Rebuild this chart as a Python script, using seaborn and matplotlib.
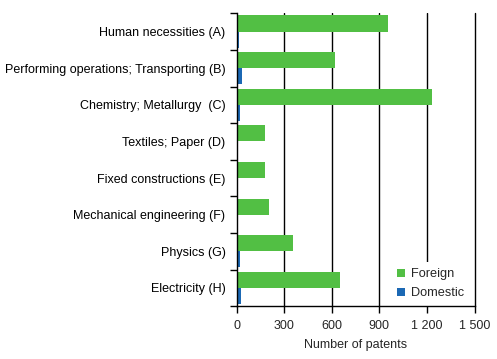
import pandas as pd
import matplotlib
matplotlib.use('Agg')
import matplotlib.pyplot as plt
import seaborn as sns
from matplotlib.ticker import FuncFormatter, FixedLocator

# Patent classes and counts
categories = [
    'Human necessities (A)',
    'Performing operations; Transporting (B)',
    'Chemistry; Metallurgy  (C)',
    'Textiles; Paper (D)',
    'Fixed constructions (E)',
    'Mechanical engineering (F)',
    'Physics (G)',
    'Electricity (H)',
]
foreign = [955, 622, 1233, 181, 181, 206, 357, 653]
domestic = [17, 36, 23, 0, 0, 0, 23, 30]
series_names = ['Foreign', 'Domestic']
x_ticks = [0, 300, 600, 900, 1200, 1500]

GREEN = '#52BF44'
BLUE = '#1B68B4'

sns.set_style('white')
plt.rcParams['font.family'] = ['Liberation Sans', 'DejaVu Sans']
plt.rcParams['font.size'] = 9

df = pd.DataFrame({
    'category': categories * 2,
    'value': foreign + domestic,
    'series': [series_names[0]] * len(categories) + [series_names[1]] * len(categories),
})

fig = plt.figure(figsize=(4.97, 3.59), dpi=100)
ax = fig.add_axes([236.5 / 497, 0.147, 238 / 497, 0.816])

sns.barplot(data=df, x='value', y='category', hue='series', hue_order=series_names,
            palette=[GREEN, BLUE], saturation=1, orient='h', width=0.88,
            linewidth=0, ax=ax, legend=True)

ax.set_xlim(0, 1500)
ax.set_ylim(len(categories) - 0.5, -0.5)
ax.xaxis.set_major_locator(FixedLocator(x_ticks))
ax.xaxis.set_major_formatter(FuncFormatter(lambda v, p: f"{int(v):,}".replace(',', ' ')))
for v in x_ticks[1:-1]:
    ax.axvline(v, color='black', lw=1, zorder=0.5)
# outer gridline stays on top of the legend box
ax.axvline(x_ticks[-1], color='black', lw=1, zorder=0.9, clip_on=False)

# category boundary ticks on y axis, labels without ticks
ax.set_yticks([i - 0.5 for i in range(len(categories) + 1)], minor=True)
ax.tick_params(axis='y', which='major', length=0, pad=8, labelsize=9, colors='black')
ax.tick_params(axis='y', which='minor', length=5, width=1, color='black', direction='out', left=True)
ax.tick_params(axis='x', which='major', length=5, width=1, color='black', direction='out',
               bottom=True, labelsize=9, pad=5)

for s in ['top', 'right']:
    ax.spines[s].set_visible(False)
for s in ['left', 'bottom']:
    ax.spines[s].set_color('black')
    ax.spines[s].set_linewidth(1)

ax.set_ylabel('')
ax.set_xlabel('Number of patents', fontsize=9, labelpad=5)

# white legend box hides the 1 200 gridline behind it, as in the original
handles, labels = ax.get_legend_handles_labels()
leg = ax.legend(handles, labels, loc='lower right', bbox_to_anchor=(1.008, -0.02), frameon=True,
                handlelength=0.65, handleheight=0.65, handletextpad=0.4, labelspacing=0.55,
                fontsize=9.2, borderpad=0.5, fancybox=False)
leg.get_frame().set_facecolor('white')
leg.get_frame().set_edgecolor('none')
leg.get_frame().set_alpha(1)
leg.set_zorder(0.8)

fig.savefig('out.png', dpi=100, facecolor='white')
